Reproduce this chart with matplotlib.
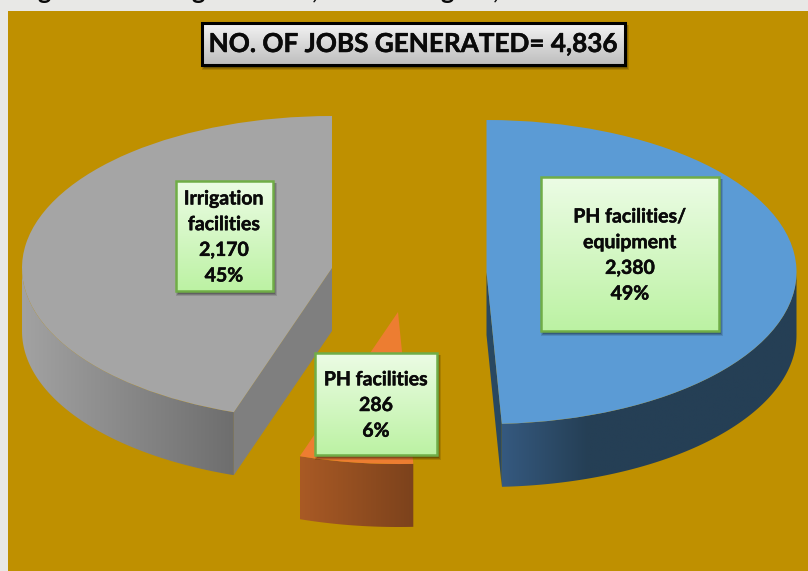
import matplotlib
matplotlib.use('Agg')
import matplotlib.pyplot as plt
import matplotlib.patheffects as pe
import numpy as np
from matplotlib.colors import LinearSegmentedColormap
from matplotlib.patches import Polygon, Rectangle

plt.rcParams['font.family'] = ['Lato', 'DejaVu Sans']

# -- Chart data --
categories = ['PH facilities/\nequipment', 'PH facilities', 'Irrigation\nfacilities']
jobs = [2380, 286, 2170]
job_labels = ['2,380', '286', '2,170']
share_labels = ['49%', '6%', '45%']
total_label = 'NO. OF JOBS GENERATED= 4,836'
# only the descenders of the heading line above are left in the crop
cut_heading = ['g', 'g', ',', 'g', ',']

W, H = 808, 571
RX, RY = 310, 152
DEPTH = 63
squash = RY / RX

top_colors = ['#5B9BD5', '#ED7D31', '#A5A5A5']
wall_colors = [[(0, '#35597F'), (0.29, '#253F55'), (1, '#253F55')],
               [(0, '#A95A25'), (1, '#7C421C')],
               [(0, '#A2A2A2'), (1, '#6E6E6E')]]
face_colors = ['#294861', '#A5A5A5', '#7F7F7F']
centers = [(486.5, 272), (398, 312), (332, 268)]
boxes = [(541, 177, 719, 331), (315, 353, 437, 455), (175.5, 181, 272.5, 291)]
cut_x = [44, 198, 315, 447, 496]
heavy = [pe.withStroke(linewidth=0.35, foreground='#0A0A0A')]


def py(y):
    # pixel row -> data y
    return (H - y) / squash


def gradient(ax, x0, y0, x1, y1, stops, vertical=False, clip=None, zorder=2):
    cmap = LinearSegmentedColormap.from_list('g', stops)
    img = np.linspace(0, 1, 256).reshape(-1, 1) if vertical else np.linspace(0, 1, 256).reshape(1, -1)
    im = ax.imshow(img, cmap=cmap, extent=(x0, x1, py(y1), py(y0)), origin='upper',
                   aspect='auto', zorder=zorder, interpolation='bilinear')
    if clip is not None:
        im.set_clip_path(clip)
    return im


def box(ax, x0, y0, x1, y1, c0, c1, edge, lw, zorder):
    # soft shadow, then gradient fill, then the border
    for grow, alpha in [(3, 0.12), (2, 0.16), (1, 0.2)]:
        ax.add_patch(Rectangle((x0 + 2 - grow + 1, py(y1 + 2 + grow)), x1 - x0 + 2 * grow - 2,
                               py(y0 + 2) - py(y1 + 2 + grow), fc='black', ec='none',
                               alpha=alpha, zorder=zorder))
    gradient(ax, x0, y0, x1, y1, [c0, c1], vertical=True, zorder=zorder + 0.1)
    ax.add_patch(Rectangle((x0, py(y1)), x1 - x0, py(y0) - py(y1), fc='none', ec=edge,
                           lw=lw, zorder=zorder + 0.2))


fig = plt.figure(figsize=(W / 100, H / 100), dpi=100, facecolor='#E8E8E6')
ax = fig.add_axes([0, 0, 1, 1])

fractions = np.array(jobs) / sum(jobs)
starts = 360 * np.concatenate([[0], np.cumsum(fractions)[:-1]])

for i, frac in enumerate(fractions):
    cx, cy = centers[i]
    # top surface, angles clockwise from 12 o'clock
    ax.pie([frac], colors=[top_colors[i]], startangle=90 - starts[i], counterclock=False,
           center=(cx, py(cy)), radius=RX, normalize=False, frame=True,
           wedgeprops={'zorder': 4, 'linewidth': 0})
    a0, a1 = starts[i], starts[i] + 360 * frac

    # outer wall, only the part facing the viewer
    lo, hi = max(a0, 90), min(a1, 270)
    t = np.radians(np.linspace(lo, hi, 150))
    xs = cx + RX * np.sin(t)
    ys = cy - RY * np.cos(t)
    pts = np.r_[np.c_[xs, py(ys)], np.c_[xs[::-1], py(ys[::-1] + DEPTH)]]
    wall = Polygon(pts, closed=True, fc='none', ec='none', transform=ax.transData)
    ax.add_patch(wall)
    gradient(ax, xs.min(), ys.min(), xs.max(), ys.max() + DEPTH, wall_colors[i], clip=wall, zorder=2)

# cut faces of the blue and the grey slice
for i, ang in [(0, starts[0] + 360 * fractions[0]), (2, starts[2])]:
    cx, cy = centers[i]
    ex = cx + RX * np.sin(np.radians(ang))
    ey = cy - RY * np.cos(np.radians(ang))
    ax.add_patch(Polygon([(cx, py(cy)), (ex, py(ey)), (ex, py(ey + DEPTH)), (cx, py(cy + DEPTH))],
                         closed=True, fc=face_colors[i], ec='none', zorder=3))

# data labels
for i, (x0, y0, x1, y1) in enumerate(boxes):
    box(ax, x0, y0, x1, y1, '#ECFCE5', '#BCF2A3', '#70AD47', 1.8, 6)
    lines = categories[i].split('\n') + [job_labels[i], share_labels[i]]
    mid = (y0 + y1) / 2 + 1.5
    for k, line in enumerate(lines):
        ax.text((x0 + x1) / 2, py(mid + (k - (len(lines) - 1) / 2) * 25.7), line, ha='center',
                va='center', fontsize=14, fontweight='bold', color='#0A0A0A', zorder=7,
                path_effects=heavy)

# total box
box(ax, 202, 23, 625, 65, '#F4F4F4', '#BDBDBD', 'black', 2.2, 6)
ax.text(413.5, py(44), total_label, ha='center', va='center', fontsize=18.8,
        fontweight='bold', color='#0A0A0A', zorder=7, path_effects=heavy)

# heading cut off by the top of the crop, as in the reference
for x, ch in zip(cut_x, cut_heading):
    ax.text(x, py(-1.4), ch, ha='center', va='baseline', fontsize=18, fontweight='bold',
            color='#0A0A0A', zorder=7, clip_on=True)

# gold plot area
ax.add_patch(Rectangle((8, 0), W - 8, py(11), fc='#BF9000', ec='none', zorder=0))

ax.set_xlim(0, W)
ax.set_ylim(0, py(0))
ax.set_aspect('auto')
ax.set_xticks([])
ax.set_yticks([])
ax.set_frame_on(False)
ax.patch.set_visible(False)

fig.savefig('out.png', dpi=100, facecolor=fig.get_facecolor())
